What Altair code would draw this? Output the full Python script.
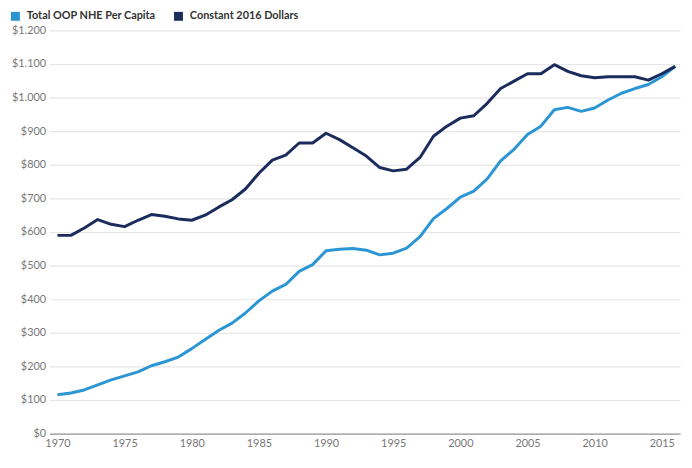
import altair as alt
import pandas as pd

years = list(range(1970, 2017))
total_oop = [116, 121, 130, 145, 160, 172, 184, 202, 214, 228,
             253, 280, 307, 329, 359, 395, 424, 444, 483, 503,
             544, 549, 551, 546, 532, 537, 552, 586, 640, 670,
             704, 722, 758, 812, 846, 890, 915, 964, 971, 959,
             969, 993, 1013, 1027, 1039, 1062, 1093]
constant_2016 = [590, 590, 612, 637, 623, 616, 635, 652, 647, 639,
                 635, 650, 674, 696, 728, 775, 814, 829, 865, 865,
                 894, 875, 851, 826, 792, 782, 787, 822, 885, 915,
                 939, 946, 983, 1027, 1049, 1071, 1071, 1098, 1078, 1065,
                 1059, 1062, 1062, 1062, 1052, 1071, 1093]
series_names = ["Total OOP NHE Per Capita", "Constant 2016 Dollars"]
series_colors = ["#2b96d3", "#1b2c5c"]

rows = []
for y, a, b in zip(years, total_oop, constant_2016):
    rows.append({"year": y, "series": series_names[0], "value": a})
    rows.append({"year": y, "series": series_names[1], "value": b})
df = pd.DataFrame(rows)

chart = alt.Chart(df).mark_line(strokeWidth=3, strokeJoin="round").encode(
    x=alt.X("year:Q", scale=alt.Scale(domain=[1969.41, 2016.36], nice=False, zero=False),
            axis=alt.Axis(values=list(range(1970, 2016, 5)), format="d", title=None,
                          grid=False, ticks=False, domainColor="#9a9a9a", domainWidth=1.5,
                          labelColor="#777777", labelFontSize=11, labelPadding=4,
                          labelFont="Lato")),
    y=alt.Y("value:Q", scale=alt.Scale(domain=[0, 1200], nice=False),
            axis=alt.Axis(values=list(range(0, 1201, 100)), title=None, domain=False,
                          ticks=False, gridColor="#e6e6e6", gridWidth=1.2,
                          labelColor="#777777", labelFontSize=11, labelPadding=4,
                          labelFont="Lato",
                          labelExpr="'$' + replace(format(datum.value, ','), ',', '.')")),
    color=alt.Color("series:N", scale=alt.Scale(domain=series_names, range=series_colors),
                    sort=series_names,
                    legend=alt.Legend(title=None, orient="none", legendX=-40, legendY=-20,
                                      direction="horizontal", symbolType="square",
                                      symbolSize=16, symbolStrokeWidth=5,
                                      labelFont="Lato", labelFontSize=11,
                                      labelFontWeight="bold", labelColor="#333333",
                                      labelOffset=6,
                                      columnPadding=10, symbolOffset=0)),
).properties(
    width=638, height=408,
    autosize=alt.AutoSizeParams(type="none"),
    padding={"left": 42, "top": 20, "right": 4, "bottom": 24},
).configure_view(stroke=None)

chart.save("out.html", embed_options={"renderer": "svg", "actions": False})
